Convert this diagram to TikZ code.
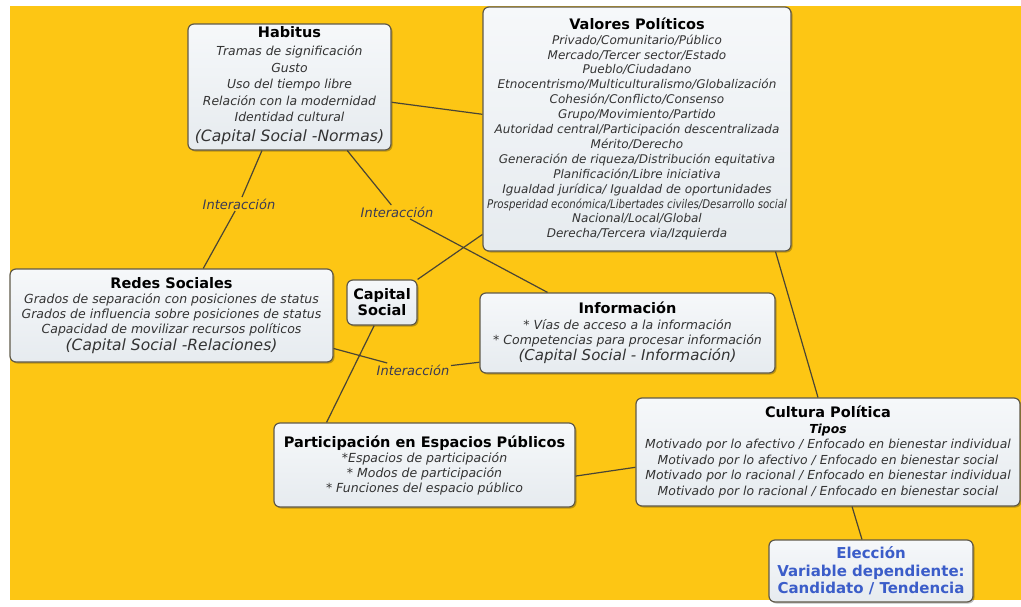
\documentclass[tikz,border=0pt]{standalone}
\usepackage{fontspec}
\setmainfont{DejaVu Sans}
\usetikzlibrary{calc,shadows}
\definecolor{bg}{HTML}{FDC614}
\definecolor{boxtop}{HTML}{F6F8FA}
\definecolor{boxbot}{HTML}{E6EBEF}
\definecolor{boxline}{HTML}{605A4A}
\definecolor{itemcol}{HTML}{333333}
\definecolor{linkcol}{HTML}{4A4535}
\definecolor{labcol}{HTML}{3A3A55}
\definecolor{elecol}{HTML}{3B5DC9}
\tikzset{
  box/.style={draw=boxline, line width=1.2pt, rounded corners=6pt,
    top color=boxtop, bottom color=boxbot,
    align=center, inner sep=0pt, anchor=center, text=itemcol,
    drop shadow={shadow xshift=1.5pt, shadow yshift=-1.5pt, fill=black, opacity=0.25}},
  link/.style={draw=linkcol, line width=1.2pt},
  lab/.style={font=\fontsize{13}{15}\selectfont\itshape, text=labcol, inner sep=1.5pt},
}
\newcommand\ttl[1]{{\color{black}\bfseries\fontsize{14.5}{15}\selectfont #1}}
\begin{document}
\begin{tikzpicture}[x=1pt,y=-1pt]
\useasboundingbox (0,0) rectangle (1021,606);
\fill[bg] (10,6) rectangle (1021,600);

% nodes
\node[box, minimum width=203pt, minimum height=126pt, font=\fontsize{12.4}{16.6}\selectfont] (hab) at (289.5,87)
  {\ttl{Habitus}\\[1pt] \itshape Tramas de significación\\ \itshape Gusto\\ \itshape Uso del tiempo libre\\
   \itshape Relación con la modernidad\\ \itshape Identidad cultural\\[3pt]
   {\itshape\fontsize{15.6}{16.6}\selectfont (Capital Social -Normas)}\\[-11pt]\mbox{}};

\node[box, minimum width=308pt, minimum height=244pt, font=\fontsize{12}{14.9}\selectfont\itshape] (val) at (637,129)
  {\ttl{\upshape Valores Políticos}\\ Privado/Comunitario/Público\\ Mercado/Tercer sector/Estado\\ Pueblo/Ciudadano\\
   Etnocentrismo/Multiculturalismo/Globalización\\ Cohesión/Conflicto/Consenso\\ Grupo/Movimiento/Partido\\
   Autoridad central/Participación descentralizada\\ Mérito/Derecho\\ Generación de riqueza/Distribución equitativa\\
   Planificación/Libre iniciativa\\ Igualdad jurídica/ Igualdad de oportunidades\\
   \scalebox{0.85}[1]{Prosperidad económica/Libertades civiles/Desarrollo social}\\ Nacional/Local/Global\\ Derecha/Tercera via/Izquierda};

\node[box, minimum width=323pt, minimum height=93pt, font=\fontsize{12.5}{15}\selectfont\itshape] (red) at (171.5,315.5)
  {\ttl{\upshape Redes Sociales}\\ Grados de separación con posiciones de status\\
   Grados de influencia sobre posiciones de status\\ Capacidad de movilizar recursos políticos\\[2pt]
   {\fontsize{15.5}{15}\selectfont (Capital Social -Relaciones)}};

\node[box, minimum width=70pt, minimum height=45pt, font=\fontsize{14.5}{16}\selectfont\bfseries, text=black] (cap) at (382,302.5)
  {Capital\\ Social};

\node[box, minimum width=295pt, minimum height=80pt, font=\fontsize{12.5}{15.5}\selectfont\itshape] (inf) at (627.5,333)
  {\ttl{\upshape Información}\\ * Vías de acceso a la información\\ * Competencias para procesar información\\
   {\fontsize{15}{15.5}\selectfont (Capital Social - Información)}};

\node[box, minimum width=301pt, minimum height=84pt, font=\fontsize{12.5}{15}\selectfont\itshape] (par) at (424.5,465)
  {\ttl{\upshape Participación en Espacios Públicos}\\ *Espacios de participación\\ * Modos de participación\\
   * Funciones del espacio público};

\node[box, minimum width=384pt, minimum height=108pt, font=\fontsize{12.4}{15.5}\selectfont\itshape] (cul) at (828,452)
  {\ttl{\upshape Cultura Política}\\ {\color{black}\bfseries Tipos}\\
   Motivado por lo afectivo / Enfocado en bienestar individual\\
   Motivado por lo afectivo / Enfocado en bienestar social\\
   Motivado por lo racional / Enfocado en bienestar individual\\
   Motivado por lo racional / Enfocado en bienestar social};

\node[box, minimum width=204pt, minimum height=62pt, font=\fontsize{15}{17.5}\selectfont\bfseries, text=elecol] (ele) at (871,571)
  {Elección\\ Variable dependiente:\\ Candidato / Tendencia};

% labels
\node[lab] (int1) at (239,204) {Interacción};
\node[lab] (int2) at (397,212) {Interacción};
\node[lab] (int3) at (413,370) {Interacción};

% connectors
\draw[link] ($(hab.south west)!0.365!(hab.south east)$) -- (int1) -- ($(red.north west)!0.598!(red.north east)$);
\draw[link] ($(hab.south west)!0.783!(hab.south east)$) -- (int2) -- ($(inf.north west)!0.23!(inf.north east)$);
\draw[link] ($(hab.north east)!0.62!(hab.south east)$) -- ($(val.north west)!0.44!(val.south west)$);
\draw[link] (cap.north east) -- ($(val.north west)!0.93!(val.south west)$);
\draw[link] ($(red.north east)!0.85!(red.south east)$) -- (int3) -- ($(inf.north west)!0.86!(inf.south west)$);
\draw[link] ($(cap.south west)!0.39!(cap.south east)$) -- ($(par.north west)!0.176!(par.north east)$);
\draw[link] ($(par.north east)!0.63!(par.south east)$) -- ($(cul.north west)!0.64!(cul.south west)$);
\draw[link] ($(val.south west)!0.948!(val.south east)$) -- ($(cul.north west)!0.474!(cul.north east)$);
\draw[link] ($(cul.south west)!0.5625!(cul.south east)$) -- ($(ele.north west)!0.456!(ele.north east)$);
\end{tikzpicture}
\end{document}
